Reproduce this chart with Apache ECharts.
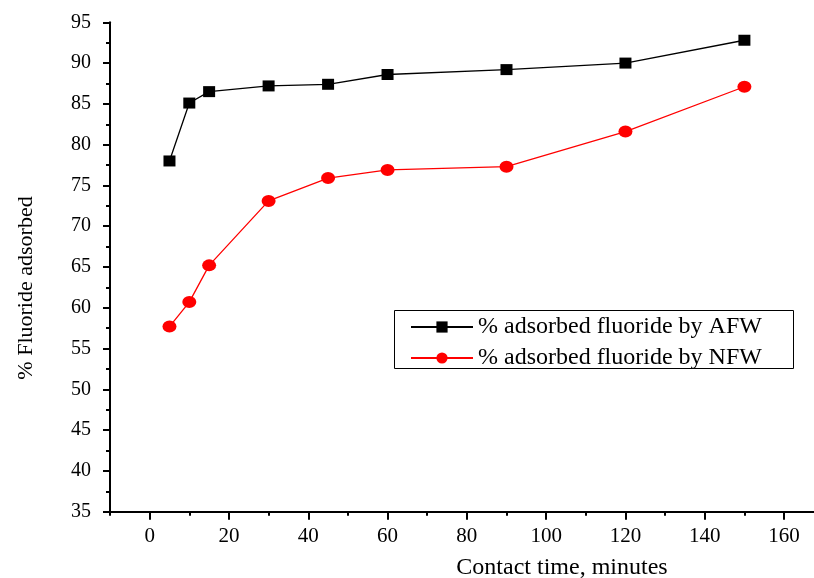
<!DOCTYPE html>
<html>
<head>
<meta charset="utf-8">
<script src="https://cdn.jsdelivr.net/npm/echarts@6/dist/echarts.min.js"></script>
<style>
  html, body { margin: 0; padding: 0; background: #fff; overflow: hidden; width: 814px; height: 578px; }
  /* the x axis runs on to 170, just past the right edge of the window */
  #chart { width: 824px; height: 578px; }
</style>
</head>
<body>
<div id="chart"></div>
<script>
// Contact time (minutes)
const contactTime = [5, 10, 15, 30, 45, 60, 90, 120, 150];
// % fluoride adsorbed
const afw = [78.0, 85.1, 86.5, 87.2, 87.4, 88.6, 89.2, 90.0, 92.8];
const nfw = [57.7, 60.7, 65.2, 73.1, 75.9, 76.9, 77.3, 81.6, 87.1];
const seriesNames = ['% adsorbed fluoride by AFW', '% adsorbed fluoride by NFW'];
const xTitle = 'Contact time, minutes';
const yTitle = '% Fluoride adsorbed';

const FONT = '"Liberation Serif", "Times New Roman", serif';
const chart = echarts.init(document.getElementById('chart'), null, { renderer: 'canvas' });

const pairs = (xs, ys) => xs.map((x, i) => [x, ys[i]]);

chart.setOption({
  animation: false,
  backgroundColor: '#fff',
  grid: [
    { left: 110, right: 0.3, top: 22.3, bottom: 66.3 },
    // second grid carries the labelled major ticks (0..160 step 20)
    { left: 149.65, right: 39.95, top: 22.3, bottom: 66.3 }
  ],
  xAxis: [
    {
      gridIndex: 0, type: 'value', min: -10, max: 170, interval: 10,
      axisLine: { show: true, lineStyle: { color: '#000', width: 2 } },
      axisTick: { show: true, length: 4, lineStyle: { color: '#000', width: 2 } },
      axisLabel: { show: false },
      splitLine: { show: false }
    },
    {
      gridIndex: 1, type: 'value', min: 0, max: 160, interval: 20,
      axisLine: { show: false },
      axisTick: { show: true, length: 8, lineStyle: { color: '#000', width: 2 } },
      axisLabel: { show: true, color: '#000', fontFamily: FONT, fontSize: 21, margin: 14 },
      splitLine: { show: false }
    }
  ],
  yAxis: [
    {
      gridIndex: 0, type: 'value', min: 35, max: 95, interval: 5,
      axisLine: { show: true, onZero: false, lineStyle: { color: '#000', width: 2 } },
      axisTick: { show: true, length: 7, lineStyle: { color: '#000', width: 2 } },
      minorTick: { show: true, splitNumber: 2, length: 4, lineStyle: { color: '#000', width: 2 } },
      axisLabel: { show: true, color: '#000', fontFamily: FONT, fontSize: 20, margin: 19 },
      splitLine: { show: false }
    },
    { gridIndex: 1, type: 'value', min: 35, max: 95, show: false }
  ],
  legend: {
    orient: 'vertical',
    left: 410, top: 315,
    itemWidth: 62, itemHeight: 14, itemGap: 7,
    padding: 0,
    textStyle: { color: '#000', fontFamily: FONT, fontSize: 24 },
    data: seriesNames
  },
  graphic: [
    {
      type: 'rect', shape: { x: 394.5, y: 310.5, width: 399, height: 58 },
      style: { fill: 'none', stroke: '#000', lineWidth: 1 }, z: 1
    },
    {
      type: 'text', x: 562, y: 568,
      style: { text: xTitle, fill: '#000', font: '24px ' + FONT, align: 'center', verticalAlign: 'middle' }
    },
    {
      type: 'text', x: 26, y: 288, rotation: Math.PI / 2,
      style: { text: yTitle, fill: '#000', font: '22px ' + FONT, align: 'center', verticalAlign: 'middle' }
    }
  ],
  series: [
    {
      name: seriesNames[0], type: 'line', xAxisIndex: 0, yAxisIndex: 0,
      data: pairs(contactTime, afw),
      symbol: 'rect', symbolSize: [12, 11],
      itemStyle: { color: '#000' },
      lineStyle: { color: '#000', width: 1.3 }
    },
    {
      name: seriesNames[1], type: 'line', xAxisIndex: 0, yAxisIndex: 0,
      data: pairs(contactTime, nfw),
      symbol: 'circle', symbolSize: [14, 12],
      itemStyle: { color: '#ff0000' },
      lineStyle: { color: '#ff0000', width: 1.3 }
    }
  ]
});
</script>
</body>
</html>
